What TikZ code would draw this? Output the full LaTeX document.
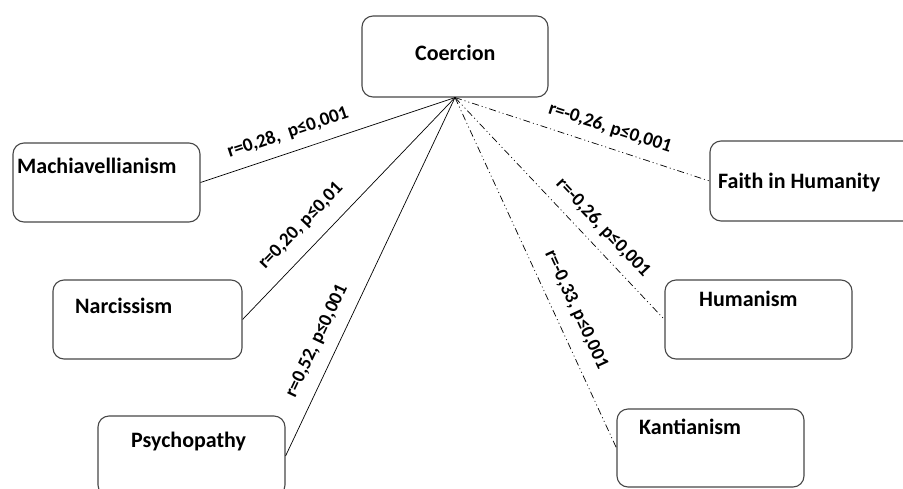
\documentclass[tikz,border=0pt]{standalone}
\usepackage{fontspec}
\setmainfont{Carlito}
\begin{document}
\begin{tikzpicture}[x=1pt,y=-1pt,
  box/.style={draw=black!72, line width=1.1pt, rounded corners=11pt, inner sep=0pt},
  boxtext/.style={font=\fontsize{22}{26}\selectfont\bfseries, anchor=base west, inner sep=0pt},
  corr/.style={font=\fontsize{19}{22}\selectfont\bfseries, inner sep=0pt},
  linkpos/.style={line width=0.7pt},
  linkneg/.style={line width=0.7pt, dash pattern=on 7pt off 3pt on 1pt off 3pt on 1pt off 3pt}]
\useasboundingbox (0,0) rectangle (903,488);

% boxes
\node[box, minimum width=186pt, minimum height=81pt] (coer)  at (455,56.5)  {};
\node[box, minimum width=187pt, minimum height=79pt] (mach)  at (106.5,182.5) {};
\node[box, minimum width=189pt, minimum height=79pt] (narc)  at (147.5,319.5) {};
\node[box, minimum width=187pt, minimum height=80pt] (psych) at (191.5,456) {};
\node[box, minimum width=205pt, minimum height=80pt] (faith) at (812.5,181) {};
\node[box, minimum width=187pt, minimum height=79pt] (hum)   at (758.5,319.5) {};
\node[box, minimum width=187pt, minimum height=78pt] (kant)  at (710.5,448) {};

% box titles
\node[boxtext] (coertxt)  at (415,60)  {Coercion};
\node[boxtext] (machtxt)  at (17,173)  {Machiavellianism};
\node[boxtext] (narctxt)  at (75,313)  {Narcissism};
\node[boxtext] (psychtxt) at (131,447) {Psychopathy};
\node[boxtext] (faithtxt) at (718,188) {Faith in Humanity};
\node[boxtext] (humtxt)   at (699,306) {Humanism};
\node[boxtext] (kanttxt)  at (639,434) {Kantianism};

% connectors
\draw[linkpos] (coer.south) -- (mach.east);
\draw[linkpos] (coer.south) -- (narc.east);
\draw[linkpos] (coer.south) -- (psych.east);
\draw[linkneg] (coer.south) -- (faith.west);
\draw[linkneg] (coer.south) -- (hum.west);
\draw[linkneg] (coer.south) -- (kant.west);

% correlation labels
\node[corr, rotate=18.6]  (c1) at (288,133) {r=0,28,\hspace{0.45em}p≤0,001};
\node[corr, rotate=46.2]  (c2) at (301,226) {r=0,20, p≤0,01};
\node[corr, rotate=64.7]  (c3) at (317,341) {r=0,52, p≤0,001};
\node[corr, rotate=-17.8] (c4) at (610,128) {r=-0,26, p≤0,001};
\node[corr, rotate=-46.6] (c5) at (603,228) {r=-0,26, p≤0,001};
\node[corr, rotate=-65.2] (c6) at (576,310) {r=-0,33, p≤0,001};
\end{tikzpicture}
\end{document}
